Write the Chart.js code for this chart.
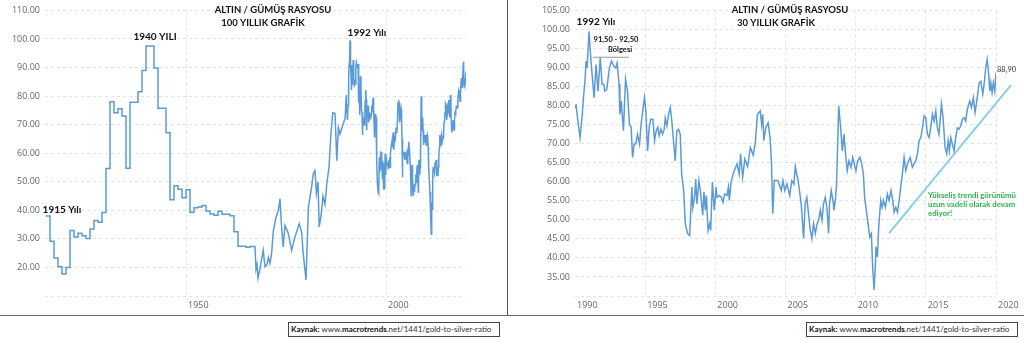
<!DOCTYPE html>
<html>
<head>
<meta charset="utf-8">
<script src="https://cdn.jsdelivr.net/npm/chart.js@4.4.0/dist/chart.umd.min.js"></script>
<style>
  body { margin:0; width:1024px; height:348px; background:#fff; position:relative; overflow:hidden; font-family: Lato, sans-serif; }
  #left { position:absolute; left:0; top:0; }
  #right { position:absolute; left:509px; top:0; }
  .vline { position:absolute; left:507px; top:0; width:1px; height:315px; background:#555; }
  .hline { position:absolute; left:0; top:315px; width:1024px; height:1px; background:#666; }
  .src { position:absolute; top:322px; height:15px; box-sizing:border-box; border:1px solid #444; font-size:8px; line-height:13px; padding:0 2px; color:#333; white-space:nowrap; overflow:hidden; }
  .src b { color:#111; }
</style>
</head>
<body>
<canvas id="left" width="507" height="315"></canvas>
<canvas id="right" width="515" height="315"></canvas>
<div class="vline"></div>
<div class="hline"></div>
<div class="src" style="left:288px;width:212px"><b>Kaynak:</b> www.<b>macrotrends</b>.net/1441/gold-to-silver-ratio</div>
<div class="src" style="left:806px;width:212px"><b>Kaynak:</b> www.<b>macrotrends</b>.net/1441/gold-to-silver-ratio</div>
<script>
// yearly steps 1915-1967 (100 year chart)
const stepYears = [1915,1916,1917,1918,1919,1920,1921,1922,1923,1924,1925,1926,1927,1928,1929,1930,1931,1932,1933,1934,1935,1936,1937,1938,1939,1940,1941,1942,1943,1944,1945,1946,1947,1948,1949,1950,1951,1952,1953,1954,1955,1956,1957,1958,1959,1960,1961,1962,1963,1964,1965,1966,1967]
const stepValues = [38,29.2,23.3,20.2,17.7,20,32.9,30.7,32,31.1,30.1,33.5,36.4,35.8,39.2,54.6,78,74.2,75.6,73,54.7,77.8,77.8,81.5,89,97.5,97.5,89.8,75.7,75.7,67.2,43.7,48.6,47.4,44.4,47.2,39.3,40.9,41.2,41.7,39.8,38.7,38.3,39.7,38.6,38.6,38.1,32.5,27.4,27.4,27.1,27.3,27.3]

// 1967-1990
const lateYears = [1967,1967.25,1967.5,1967.75,1968,1968.5,1969.3,1969.75,1970.2,1970.6,1971,1971.4,1971.8,1972.5,1973.1,1973.5,1973.9,1974.3,1974.75,1975.6,1976.4,1977.25,1978.3,1978.9,1979.3,1980,1980.6,1981.4,1981.8,1982.25,1982.6,1983,1983.3,1983.75,1984.25,1984.75,1985.25,1985.75,1986.25,1986.7,1987.25,1987.7,1988.1,1988.5,1989.3,1989.8]
const lateValues = [27.3,27.3,19.4,21,16.3,19.7,26,20.2,20.8,23.5,21.4,24.9,32.4,37.6,40,44,34.1,27.2,34.7,31.8,26,30.7,35.3,32.4,24.9,15.6,41.1,48.1,52.7,53.9,46,50,34.2,38,45,42,50,55,67.2,74.2,73.9,57.4,69,66.7,70.2,72.5]

// 1990-2020 (30 year chart)
const recentYears = [1990,1990.07,1990.15,1990.36,1990.5,1990.6,1990.71,1990.79,1990.86,1991,1991.14,1991.26,1991.36,1991.5,1991.64,1991.8,1991.93,1992.05,1992.12,1992.26,1992.45,1992.6,1992.76,1992.9,1993,1993.14,1993.2,1993.3,1993.45,1993.6,1993.74,1993.88,1994,1994.1,1994.21,1994.33,1994.45,1994.6,1994.71,1994.83,1994.95,1995.05,1995.17,1995.29,1995.4,1995.55,1995.67,1995.79,1995.9,1996,1996.12,1996.24,1996.36,1996.43,1996.55,1996.67,1996.79,1996.9,1997.02,1997.14,1997.26,1997.38,1997.5,1997.6,1997.74,1997.86,1998.02,1998.17,1998.33,1998.4,1998.52,1998.6,1998.69,1998.83,1998.93,1999.1,1999.19,1999.29,1999.36,1999.48,1999.6,1999.67,1999.79,1999.93,2000.05,2000.12,2000.29,2000.43,2000.55,2000.67,2000.83,2000.93,2001,2001.12,2001.3,2001.55,2001.7,2001.8,2001.95,2002.1,2002.3,2002.5,2002.7,2002.85,2003,2003.2,2003.3,2003.38,2003.45,2003.6,2003.76,2003.9,2004,2004.09,2004.2,2004.45,2004.7,2004.82,2004.95,2005.1,2005.3,2005.45,2005.6,2005.7,2005.8,2005.88,2006.12,2006.29,2006.4,2006.52,2006.64,2006.75,2006.88,2007,2007.13,2007.25,2007.36,2007.48,2007.6,2007.71,2007.83,2007.95,2008.07,2008.14,2008.26,2008.4,2008.45,2008.55,2008.64,2008.79,2008.93,2009.05,2009.17,2009.26,2009.4,2009.52,2009.67,2009.79,2009.9,2010.02,2010.14,2010.31,2010.43,2010.55,2010.64,2010.88,2011,2011.12,2011.21,2011.31,2011.4,2011.45,2011.55,2011.64,2011.71,2011.79,2011.88,2011.98,2012.12,2012.26,2012.38,2012.52,2012.64,2012.74,2012.86,2012.98,2013.1,2013.21,2013.33,2013.45,2013.57,2013.69,2013.88,2014.04,2014.28,2014.4,2014.52,2014.64,2014.76,2014.88,2015,2015.11,2015.23,2015.35,2015.47,2015.59,2015.71,2015.82,2015.94,2016.11,2016.23,2016.37,2016.49,2016.59,2016.68,2016.78,2016.89,2017.01,2017.13,2017.25,2017.37,2017.49,2017.6,2017.72,2017.84,2017.96,2018.13,2018.25,2018.39,2018.51,2018.63,2018.8,2018.92,2019.06,2019.15,2019.27,2019.37,2019.46,2019.56,2019.63,2019.72,2019.81,2019.91,2020]
const recentValues = [79.5,80.4,77.7,71.6,76.8,82.1,86.4,91.7,89.9,99.5,91.7,86.4,82.1,90.8,83.8,92.6,85.6,85.6,83.8,84.2,89.9,91.7,90.4,89.9,91.2,85.6,77.7,81.2,73.4,86.9,83.8,75.1,74.3,66.4,69.9,69.9,72.5,69.9,75.1,78.6,82.1,78.6,68.1,74.3,76.4,76.4,70.8,73.4,74.3,72.1,73.8,72.5,73.8,76.8,74.7,77.7,79.5,75.9,70.8,65.5,73.4,73.8,72.5,62,57.7,49,46.4,45.9,58.6,53.3,55.9,60.7,54.2,60.3,57.7,51.2,57.3,52.5,56.4,47.2,49,47.2,59.9,52.5,58.6,55.9,56.4,55.9,54.6,56.8,56.4,58.6,55.1,59.9,62.5,64.7,62,67.3,61.2,66,64,69,67,70.3,77.7,78.6,75.1,77.7,70.8,74.3,75.5,71.6,65,51.6,60.3,60.3,57.7,60.3,57.7,59.4,56.4,60.3,59.4,64,62,60.8,54.2,45.1,54.2,55.9,51.6,47.7,45.1,49,46.4,49,49.9,52.5,49.9,54.2,55.9,53.3,46.4,54.2,57.7,54.6,52.5,55.1,59.4,79.9,74.2,68.1,72.5,68.1,62.9,65.5,63.8,66.4,64.7,62.9,65.5,66.4,64.7,62,55.9,49,45.5,46.4,37.7,31.6,37.7,42.9,40.3,48.1,51.6,55.1,53.3,55.1,53.3,56.8,55.1,57.7,55.1,52,53.3,52,55.1,58.6,62,66.4,62.9,64.7,66.4,63.8,65.5,67.3,70.8,71.6,74.2,77.3,76.8,72.5,71.6,74.2,77.7,75.9,78.6,74.2,72.5,80.4,76.8,69,67.3,70.8,68.1,71.6,69.9,68.1,71.6,74.2,73.8,74.7,76.4,76.8,75.9,79.1,81.2,79.5,82.1,78.2,81.2,86,86.4,83,85.6,89.9,92.1,89.1,83.8,86,83.4,86,83.8,88.6]

// drawn helper lines on the 30 year chart
const trendYears = [2012.38, 2021.07]
const trendValues = [46.5, 85.4]
const zoneYears = [1991.28, 1993.85]
const zoneValues = [92.7, 92.7]

const leftXTicks = [1950, 2000]
const rightXTicks = [1990, 1995, 2000, 2005, 2010, 2015, 2020]

const blue = '#5b9bd5'
const pts = (xs, ys) => xs.map((x, i) => ({x: x, y: ys[i]}))

// text notes drawn on top of each chart
const notesPlugin = {
  id: 'notes',
  afterDraw(chart, args, opts) {
    const ctx = chart.ctx
    ctx.save()
    opts.items.forEach(n => {
      ctx.font = n.font
      ctx.fillStyle = n.color || '#111'
      ctx.textAlign = n.align || 'center'
      ctx.textBaseline = 'middle'
      ctx.fillText(n.text, n.x, n.y)
    })
    ctx.restore()
  }
}

function makeChart(id, cfg) {
  return new Chart(document.getElementById(id), {
    type: 'line',
    data: { datasets: cfg.datasets },
    plugins: [notesPlugin],
    options: {
      responsive: false,
      animation: false,
      layout: { padding: { left: 0, right: cfg.padRight, top: 9, bottom: 0 } },
      plugins: {
        legend: { display: false },
        tooltip: { enabled: false },
        notes: { items: cfg.notes }
      },
      elements: { point: { radius: 0 }, line: { tension: 0 } },
      scales: {
        x: {
          type: 'linear',
          min: cfg.xMin,
          max: cfg.xMax,
          afterBuildTicks: s => { s.ticks = cfg.xTicks.map(v => ({value: v})) },
          afterFit: s => { s.height = 19 },
          ticks: {
            callback: v => String(v),
            align: 'start',
            labelOffset: 2,
            padding: 4,
            maxRotation: 0,
            autoSkip: false,
            color: '#666',
            font: { family: 'Open Sans', size: 9 }
          },
          grid: {
            drawTicks: false,
            color: c => (c.tick && c.tick.value === cfg.xMin) ? 'rgba(0,0,0,0)' : '#e2e2e2'
          },
          border: { display: false, dash: [3, 3] }
        },
        y: {
          min: cfg.yMin,
          max: cfg.yMax,
          afterFit: s => { s.width = cfg.yWidth },
          ticks: {
            stepSize: cfg.yStep,
            padding: 5,
            color: '#666',
            font: { family: 'Open Sans', size: 9 },
            callback: v => v === cfg.yMin ? '' : v.toFixed(2)
          },
          grid: { drawTicks: false, color: '#e2e2e2' },
          border: { display: false, dash: [3, 3] }
        }
      }
    }
  })
}

const bold = s => 'bold ' + s + 'px Lato'

makeChart('left', {
  xMin: 1914.75, xMax: 2020, xTicks: leftXTicks,
  yMin: 10, yMax: 110, yStep: 10, yWidth: 45, padRight: 41,
  datasets: [
    { data: pts(stepYears, stepValues), borderColor: blue, borderWidth: 1.5, stepped: true },
    { data: pts(lateYears.concat(recentYears), lateValues.concat(recentValues)), borderColor: blue, borderWidth: 1.5 }
  ],
  notes: [
    { text: 'ALTIN / GÜMÜŞ RASYOSU', x: 273, y: 10, font: bold(9.5) },
    { text: '100 YILLIK GRAFİK', x: 263, y: 23, font: bold(9.5) },
    { text: '1940 YILI', x: 155, y: 37, font: bold(10) },
    { text: '1992 Yılı', x: 367, y: 33, font: bold(10) },
    { text: '1915 Yılı', x: 62, y: 210, font: bold(10) }
  ]
})

makeChart('right', {
  xMin: 1990, xMax: 2020, xTicks: rightXTicks,
  yMin: 30, yMax: 105, yStep: 5, yWidth: 66, padRight: 28,
  datasets: [
    { data: pts(recentYears, recentValues), borderColor: blue, borderWidth: 1.5 },
    { data: pts(trendYears, trendValues), borderColor: '#86d0ea', borderWidth: 2, clip: false },
    { data: pts(zoneYears, zoneValues), borderColor: '#9a9a9a', borderWidth: 1.2, clip: false }
  ],
  notes: [
    { text: 'ALTIN / GÜMÜŞ RASYOSU', x: 281, y: 10, font: bold(9.5) },
    { text: '30 YILLIK GRAFİK', x: 267, y: 23, font: bold(9.5) },
    { text: '1992 Yılı', x: 87, y: 22, font: bold(10) },
    { text: '91,50 - 92,50', x: 107, y: 40, font: bold(7.5) },
    { text: 'Bölgesi', x: 111, y: 50, font: bold(7.5) },
    { text: '88,90', x: 488, y: 70, font: '7.5px Lato', color: '#333', align: 'left' },
    { text: 'Yükseliş trendi görünümü', x: 419, y: 195, font: bold(7.8), color: '#2eb34a', align: 'left' },
    { text: 'uzun vadeli olarak devam', x: 419, y: 204, font: bold(7.8), color: '#2eb34a', align: 'left' },
    { text: 'ediyor!', x: 419, y: 213, font: bold(7.8), color: '#2eb34a', align: 'left' }
  ]
})
</script>
</body>
</html>
